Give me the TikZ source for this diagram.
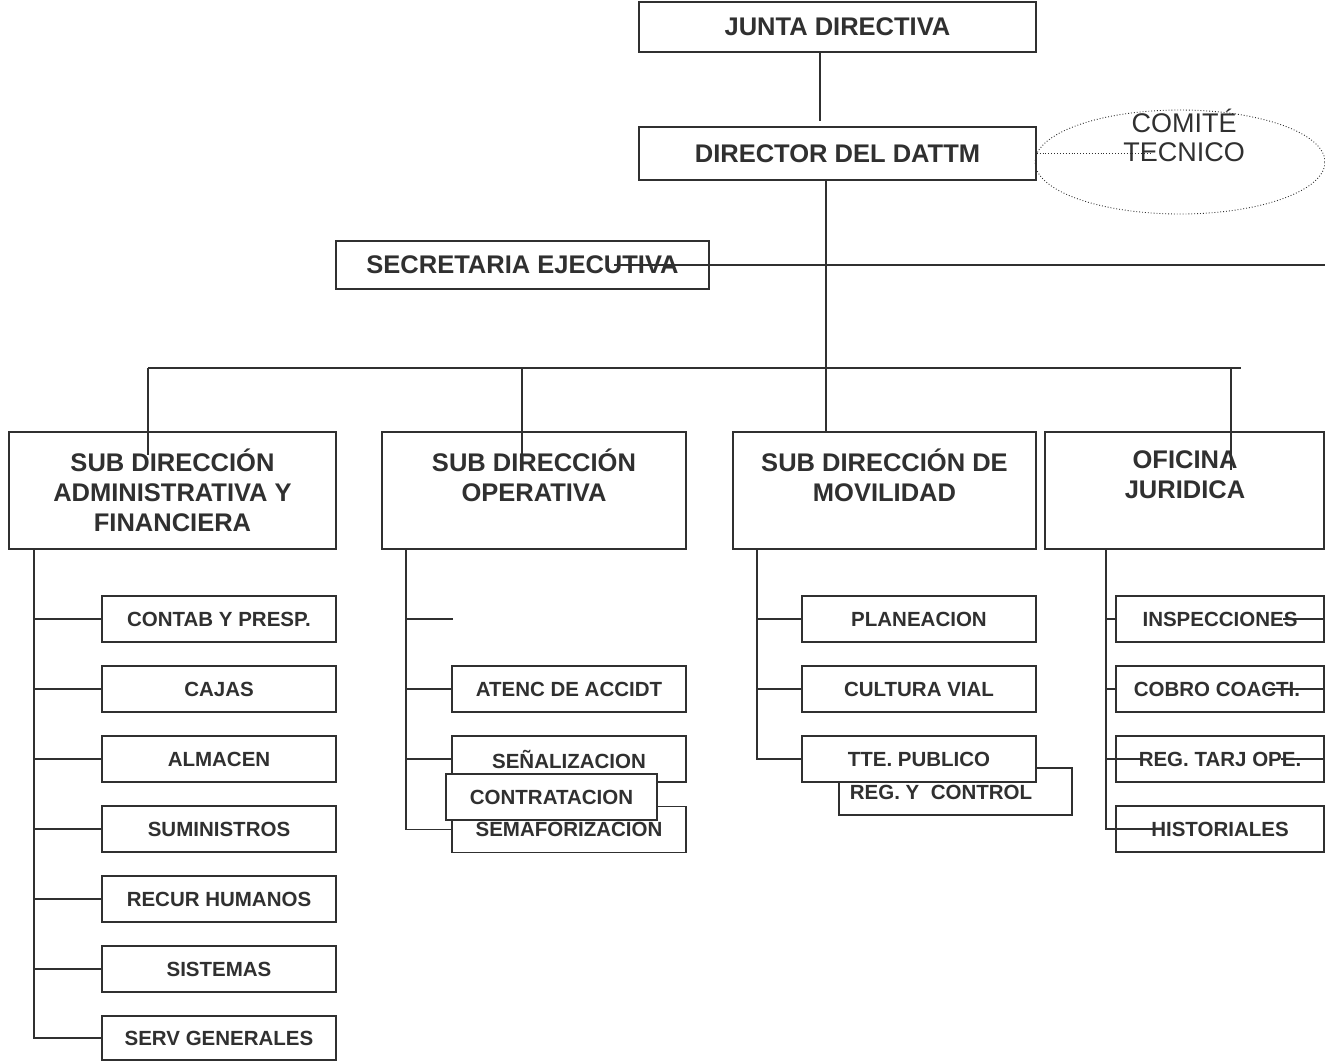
\documentclass[tikz,border=0pt]{standalone}
\usepackage{fontspec}
\setmainfont{Liberation Sans}
\usetikzlibrary{shapes.geometric}
\definecolor{ink}{RGB}{48,48,48}
\begin{document}
\begin{tikzpicture}[x=1pt,y=-1pt,
  bx/.style={draw=ink, line width=1.4pt, fill=white, inner sep=0pt, text=ink},
  bigt/.style={font=\fontsize{25.5}{30}\selectfont\bfseries, text=ink, align=center, inner sep=0pt},
  smallt/.style={font=\fontsize{20.5}{24}\selectfont\bfseries},
  kid/.style={bx, smallt, minimum width=234pt, minimum height=46pt},
  ln/.style={draw=ink, line width=1.4pt}]
\useasboundingbox (0,0) rectangle (1325,1061);
% top
\node[bx, bigt, minimum width=397pt, minimum height=50pt] (junta) at (837.5,27) {JUNTA DIRECTIVA};
\node[bx, bigt, minimum width=397pt, minimum height=53pt] (director) at (837.5,153.5) {DIRECTOR DEL DATTM};
\node[draw=ink, dotted, line width=0.9pt, ellipse, minimum width=290pt, minimum height=104pt, inner sep=0pt] (comite) at (1180,162) {};
\node[font=\fontsize{27}{29}\selectfont, text=ink, align=center, inner sep=0pt] (comitet) at (1184,135) {COMITÉ\\TECNICO};
\node[bx, bigt, minimum width=373pt, minimum height=48pt] (secre) at (522.5,265) {SECRETARIA EJECUTIVA};
% sub boxes
\node[bx, minimum width=327pt, minimum height=117pt] (adm) at (172.5,490.5) {};
\node[bigt] (admt) at (172.5,490) {SUB DIRECCIÓN\\ADMINISTRATIVA Y\\FINANCIERA};
\node[bx, minimum width=304pt, minimum height=117pt] (ope) at (534,490.5) {};
\node[bigt] (opet) at (534,475) {SUB DIRECCIÓN\\OPERATIVA};
\node[bx, minimum width=303pt, minimum height=117pt] (mov) at (884.5,490.5) {};
\node[bigt] (movt) at (884.5,475) {SUB DIRECCIÓN DE\\MOVILIDAD};
\node[bx, minimum width=279pt, minimum height=117pt] (ofi) at (1184.5,490.5) {};
\node[bigt] (ofit) at (1185,475) {OFICINA\\JURIDICA};
% admin children
\node[kid] (adm1) at (219,619) {CONTAB Y PRESP.};
\node[kid] (adm2) at (219,689) {CAJAS};
\node[kid] (adm3) at (219,759) {ALMACEN};
\node[kid] (adm4) at (219,829) {SUMINISTROS};
\node[kid] (adm5) at (219,899) {RECUR HUMANOS};
\node[kid] (adm6) at (219,969) {SISTEMAS};
\node[kid, minimum height=44pt] (adm7) at (219,1038) {SERV GENERALES};
% operativa children
\node[kid] (ope2) at (569,689) {ATENC DE ACCIDT};
\node[kid] (ope3) at (569,759) {SEÑALIZACION};
\node[kid] (ope4) at (569,829.5) {SEMAFORIZACION};
\node[bx, smallt, minimum width=211pt, minimum height=46pt] (contra) at (551.5,797) {CONTRATACION};
% movilidad children
\node[kid] (mov1) at (919,619) {PLANEACION};
\node[kid] (mov2) at (919,689) {CULTURA VIAL};
\node[bx, minimum width=233pt, minimum height=47pt] (reg) at (955.5,791.5) {};
\node[smallt, text=ink, inner sep=0pt] (regt) at (941,792) {REG. Y\ \ CONTROL};
\node[kid] (mov3) at (919,759) {TTE. PUBLICO};
% oficina children
\node[bx, minimum width=208pt, minimum height=46pt] (ofi1) at (1220,619) {};
\node[smallt, text=ink, inner sep=0pt] (ofi1t) at (1220,619) {INSPECCIONES};
\node[bx, minimum width=208pt, minimum height=46pt] (ofi2) at (1220,689) {};
\node[smallt, text=ink, inner sep=0pt] (ofi2t) at (1217,689) {COBRO COACTI.};
\node[bx, minimum width=208pt, minimum height=46pt] (ofi3) at (1220,759) {};
\node[smallt, text=ink, inner sep=0pt] (ofi3t) at (1220,759) {REG. TARJ OPE.};
\node[bx, minimum width=208pt, minimum height=46pt] (ofi4) at (1220,829) {};
\node[smallt, text=ink, inner sep=0pt] (ofi4t) at (1220,829) {HISTORIALES};
% coordinates
\coordinate (jx) at (820,0);
\coordinate (mx) at (826,0);
\coordinate (comL) at (1150,153.5);
\coordinate (secL) at (614,265);
\coordinate (secR) at (1325,265);
\coordinate (busL) at (148,368);
\coordinate (busR) at (1241,368);
\coordinate (busB) at (522,368);
\coordinate (busD) at (1231,368);
\coordinate (ax) at (34,0);
\coordinate (ox) at (406,0);
\coordinate (odang) at (453,619);
\coordinate (vx) at (757,0);
\coordinate (fx) at (1106,0);
\coordinate (s1) at (1283,619);
\coordinate (s1e) at (1324,619);
\coordinate (s2) at (1268,689);
\coordinate (s2e) at (1324,689);
\coordinate (s3) at (1142,759);
\coordinate (s3b) at (1281,759);
\coordinate (s3e) at (1324,759);
\coordinate (s4) at (1160,829);
% connectors
\draw[ln, shorten >=5pt] (junta.south -| jx) -- (director.north -| jx);
\draw[draw=ink, dotted, line width=0.9pt] (director.east) -- (comL);
\draw[ln] (director.south -| mx) -- (mov.north -| mx);
\draw[ln] (secL) -- (secR);
\draw[ln] (busL) -- (busR);
\draw[ln] (busL) -- ++(0,87);
\draw[ln] (busB) -- ++(0,87);
\draw[ln] (busD) -- ++(0,102);
% admin
\draw[ln] (adm.south -| ax) -- (adm7.west -| ax) -- (adm7.west);
\foreach \n in {adm1,adm2,adm3,adm4,adm5,adm6}{\draw[ln] (\n.west -| ax) -- (\n.west);}
% operativa
\draw[ln] (ope.south -| ox) -- (ope4.west -| ox) -- (ope4.west);
\draw[ln] (odang -| ox) -- (odang);
\foreach \n in {ope2,ope3}{\draw[ln] (\n.west -| ox) -- (\n.west);}
% movilidad
\draw[ln] (mov.south -| vx) -- (mov3.west -| vx) -- (mov3.west);
\foreach \n in {mov1,mov2}{\draw[ln] (\n.west -| vx) -- (\n.west);}
% oficina
\draw[ln] (ofi.south -| fx) -- (ofi4.west -| fx) -- (s4);
\foreach \n in {ofi1,ofi2}{\draw[ln] (\n.west -| fx) -- (\n.west);}
\draw[ln] (ofi3.west -| fx) -- (s3);
\draw[ln] (s1) -- (s1e);
\draw[ln] (s2) -- (s2e);
\draw[ln] (s3b) -- (s3e);
\end{tikzpicture}
\end{document}
